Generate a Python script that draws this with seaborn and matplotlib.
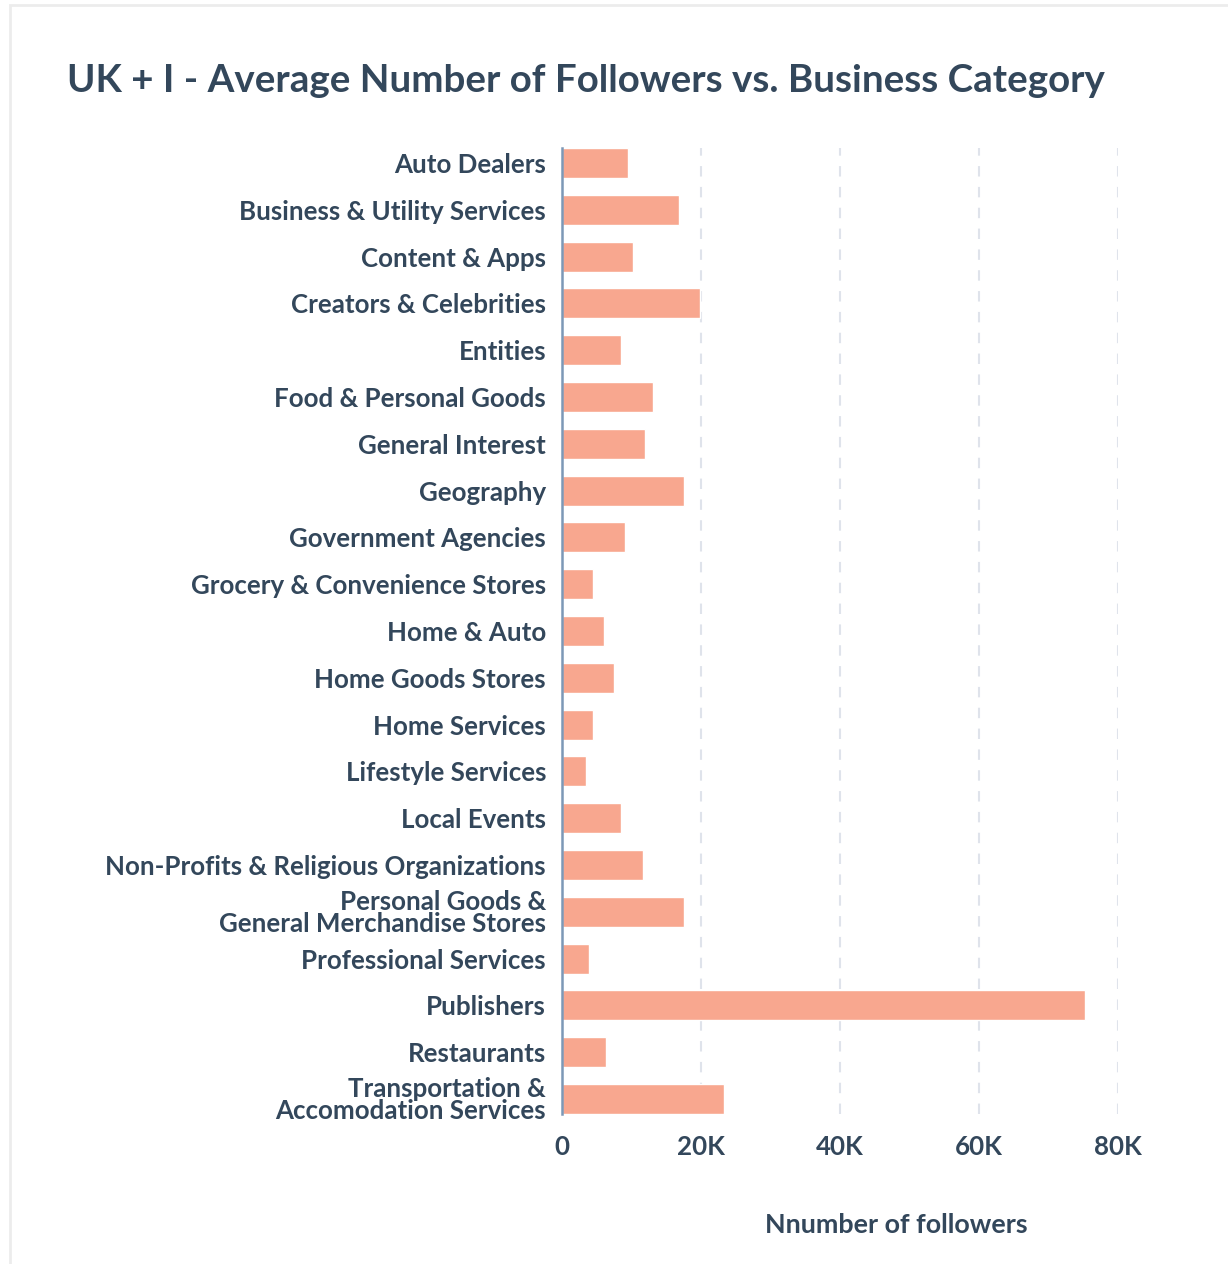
import matplotlib
matplotlib.use("Agg")
import matplotlib.pyplot as plt
import matplotlib.patches as mpatches
from matplotlib.ticker import FuncFormatter
import pandas as pd
import seaborn as sns

categories = [
    "Auto Dealers",
    "Business & Utility Services",
    "Content & Apps",
    "Creators & Celebrities",
    "Entities",
    "Food & Personal Goods",
    "General Interest",
    "Geography",
    "Government Agencies",
    "Grocery & Convenience Stores",
    "Home & Auto",
    "Home Goods Stores",
    "Home Services",
    "Lifestyle Services",
    "Local Events",
    "Non-Profits & Religious Organizations",
    "Personal Goods &\nGeneral Merchandise Stores",
    "Professional Services",
    "Publishers",
    "Restaurants",
    "Transportation &\nAccomodation Services",
]
followers = [
    9500, 16900, 10200, 19800, 8500, 13100, 11900, 17600, 9000, 4500, 6100,
    7500, 4500, 3500, 8500, 11700, 17500, 3900, 75200, 6400, 23300,
]
x_ticks = [0, 20000, 40000, 60000, 80000]

TEXT = "#33475b"
BAR = "#f8a78f"

sns.set_style("white")
plt.rcParams["font.family"] = ["Lato", "DejaVu Sans"]

df = pd.DataFrame({"category": categories, "followers": followers})

fig = plt.figure(figsize=(12.28, 12.64), dpi=100)
ax = fig.add_axes([562 / 1228, 1 - 1114 / 1264, (1118 - 562) / 1228, (1114 - 148) / 1264])

# light frame around the card
fig.patches.append(mpatches.Rectangle(
    (10 / 1228, -0.05), 1.2, 1 - 5 / 1264 + 0.05, transform=fig.transFigure,
    fill=False, edgecolor="#ececec", linewidth=2, zorder=0))

sns.barplot(data=df, y="category", x="followers", orient="h", color=BAR,
            saturation=1, width=0.64, ax=ax, zorder=2)

ax.set_xlim(0, 80000)
ax.set_ylim(len(categories) - 1 + 0.32, -0.32)
ax.set_xticks(x_ticks)
ax.xaxis.set_major_formatter(FuncFormatter(lambda v, p: "0" if v == 0 else f"{int(v/1000)}K"))
for v in x_ticks[1:]:
    ax.axvline(v, color="#dfe3eb", linestyle=(0, (5, 5)), linewidth=1.5, zorder=1)

for s in ["top", "right", "bottom"]:
    ax.spines[s].set_visible(False)
ax.spines["left"].set_color("#7c98b6")
ax.spines["left"].set_linewidth(1.8)
ax.spines["left"].set_zorder(3)

ax.tick_params(axis="both", length=0, colors=TEXT)
ax.tick_params(axis="y", pad=11.5, labelsize=18.6)
ax.tick_params(axis="x", pad=15, labelsize=18.6)
for lab in ax.get_yticklabels():
    lab.set_fontweight("bold")
    lab.set_linespacing(0.9)
for lab in ax.get_xticklabels():
    lab.set_fontweight("bold")

ax.set_xlabel("")
ax.set_ylabel("")

fig.text(896 / 1228, 1 - 1225 / 1264, "Nnumber of followers", ha="center", va="center",
         fontsize=19.4, fontweight="bold", color=TEXT)
fig.text(67 / 1228, 1 - 81 / 1264, "UK + I - Average Number of Followers vs. Business Category",
         ha="left", va="center", fontsize=27.7, fontweight="bold", color=TEXT)

fig.savefig("out.png", dpi=100)
